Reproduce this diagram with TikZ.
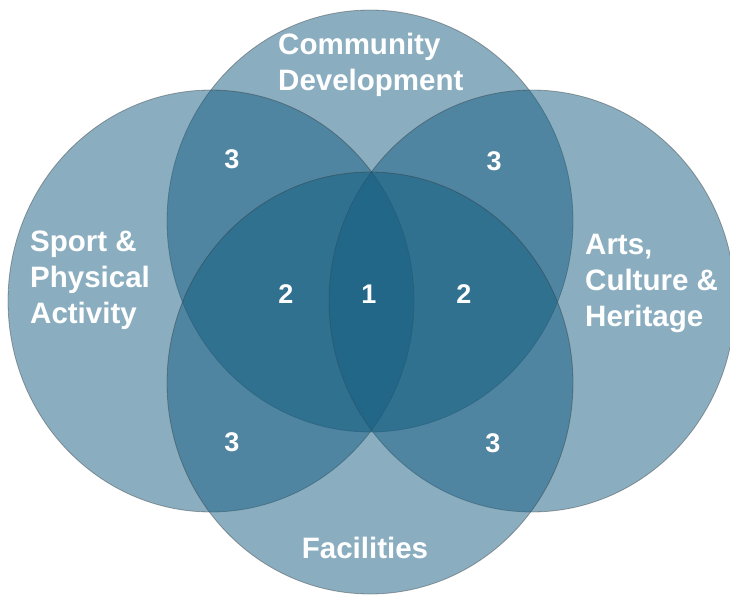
\documentclass[tikz,border=0pt]{standalone}
\usepackage{fontspec}
\setmainfont{Liberation Sans}
\definecolor{vennfill}{RGB}{21,93,129}
\begin{document}
\begin{tikzpicture}[x=1pt,y=-1pt,
  venn/.style={fill=vennfill,fill opacity=0.5,draw=black!80,draw opacity=0.4,line width=0.8pt},
  lbl/.style={text=white,font=\bfseries\fontsize{29.5}{36}\selectfont,inner sep=0pt,align=left,anchor=north west},
  num/.style={text=white,font=\bfseries\fontsize{27}{32}\selectfont,inner sep=0pt,anchor=base}]
\useasboundingbox (0,0) rectangle (730,597);
\begin{scope}
\clip (0,0) rectangle (730,597);
\path[venn] (370,221) ellipse [x radius=203, y radius=211];
\path[venn] (211,301) ellipse [x radius=203, y radius=211];
\path[venn] (532,301) ellipse [x radius=203, y radius=211];
\path[venn] (370,383) ellipse [x radius=203, y radius=211];
\end{scope}
\node[lbl] (comm) at (278,33) {Community\\Development};
\node[lbl] (sport) at (30,231) {Sport \&\\Physical\\Activity};
\node[lbl] (arts) at (585,234) {Arts,\\Culture \&\\Heritage};
\node[lbl,anchor=north,align=center] (fac) at (365,537) {Facilities};
\node[num] (n3a) at (232,168) {3};
\node[num] (n3b) at (494,170) {3};
\node[num] (n2a) at (286,303) {2};
\node[num] (n1) at (369,303) {1};
\node[num] (n2b) at (464,303) {2};
\node[num] (n3c) at (232,451) {3};
\node[num] (n3d) at (493,452) {3};
\end{tikzpicture}
\end{document}
